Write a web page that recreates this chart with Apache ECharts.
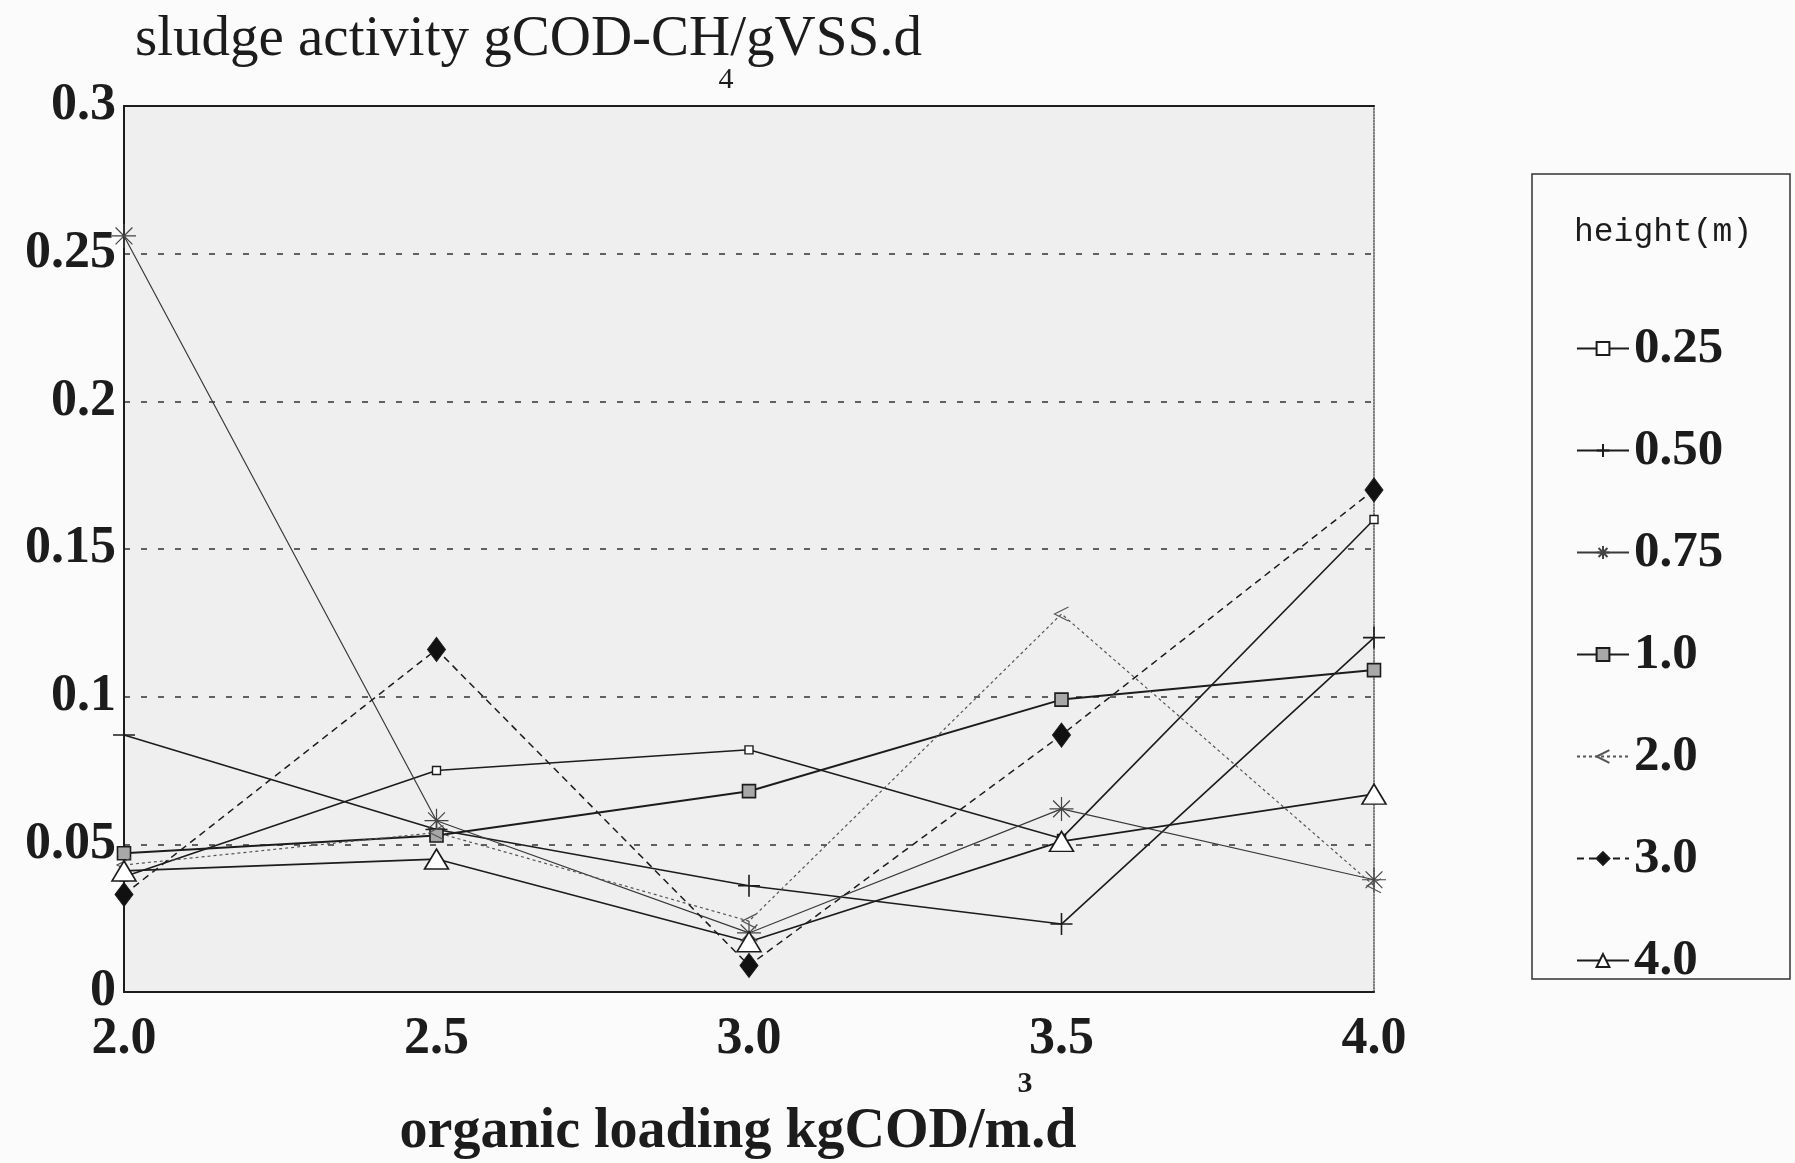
<!DOCTYPE html>
<html>
<head>
<meta charset="utf-8">
<script src="https://cdn.jsdelivr.net/npm/echarts@6/dist/echarts.min.js"></script>
<style>
  html, body { margin: 0; padding: 0; background: #fbfbfb; }
  #chart { width: 1795px; height: 1163px; }
</style>
</head>
<body>
<div id="chart"></div>
<script>
// Organic loading (kgCOD/m3.d) on the x axis
const loading = [2.0, 2.5, 3.0, 3.5, 4.0];

// Sludge activity (gCOD-CH4/gVSS.d) at each sampling height
const h025 = [0.039, 0.075, 0.082, 0.052, 0.160];
const h050 = [0.087, 0.055, 0.036, 0.023, 0.120];
const h075 = [0.256, 0.058, 0.020, 0.062, 0.038];
const h100 = [0.047, 0.053, 0.068, 0.099, 0.109];
const h200 = [0.043, 0.054, 0.024, 0.128, 0.036];
const h300 = [0.033, 0.116, 0.009, 0.087, 0.170];
const h400 = [0.041, 0.045, 0.017, 0.051, 0.067];

const heightNames = ['0.25', '0.50', '0.75', '1.0', '2.0', '3.0', '4.0'];
const xTickLabels = ['2.0', '2.5', '3.0', '3.5', '4.0'];
const yTickLabels = ['0', '0.05', '0.1', '0.15', '0.2', '0.25', '0.3'];

const SERIF = '"Liberation Serif", "DejaVu Serif", serif';
const INK = '#1c1c1c';

const pairs = vals => vals.map((v, i) => [loading[i], v]);

const PLUS = 'path://M0,5L10,5M5,0L5,10';
const ASTER = 'path://M0,5L10,5M5,0L5,10M1.5,1.5L8.5,8.5M8.5,1.5L1.5,8.5';
const CHEVRON = 'path://M10,1L0,5L10,9';

function line(name, vals, symbol, size, item, lineStyle) {
  return {
    name, type: 'line', data: pairs(vals),
    symbol, symbolSize: size,
    itemStyle: Object.assign({ borderColor: INK, borderWidth: 1.4 }, item),
    lineStyle: Object.assign({ color: INK, width: 1.6 }, lineStyle),
    emphasis: { disabled: true },
    z: 3
  };
}

const series = [
  line(heightNames[0], h025, 'rect', 8, { color: '#ffffff' }, {}),
  line(heightNames[1], h050, PLUS, 22, { color: 'rgba(0,0,0,0)', borderWidth: 1.6 }, {}),
  line(heightNames[2], h075, ASTER, 24, { color: 'rgba(0,0,0,0)', borderColor: '#444', borderWidth: 1.2 }, { color: '#3a3a3a', width: 1.2 }),
  line(heightNames[3], h100, 'rect', 13, { color: '#a8a8a8', borderWidth: 1.6 }, { width: 2 }),
  line(heightNames[4], h200, CHEVRON, 14, { color: 'rgba(0,0,0,0)', borderColor: '#555', borderWidth: 1.2 }, { color: '#555', width: 1.2, type: [3, 3] }),
  line(heightNames[5], h300, 'diamond', [18, 24], { color: '#111111', borderWidth: 1 }, { width: 1.5, type: [7, 5] }),
  line(heightNames[6], h400, 'triangle', [24, 20], { color: '#ffffff', borderWidth: 1.6 }, {})
];

const chart = echarts.init(document.getElementById('chart'), null, { renderer: 'canvas' });

chart.setOption({
  animation: false,
  backgroundColor: '#fbfbfb',
  grid: {
    left: 124, top: 106, width: 1250, height: 886,
    show: true, backgroundColor: '#efefef', borderWidth: 0
  },
  xAxis: [
    {
      type: 'value', min: 2, max: 4, interval: 0.5,
      axisLine: { show: true, onZero: false, lineStyle: { color: INK, width: 2 } },
      axisTick: { show: false },
      splitLine: { show: false },
      axisLabel: {
        margin: 22, fontSize: 52, fontWeight: 'bold', fontFamily: SERIF, color: INK,
        formatter: (v) => xTickLabels[Math.round((v - 2) / 0.5)]
      }
    },
    {
      type: 'value', min: 2, max: 4, position: 'top',
      axisLine: { show: true, onZero: false, lineStyle: { color: INK, width: 2 } },
      axisTick: { show: false }, axisLabel: { show: false }, splitLine: { show: false }
    }
  ],
  yAxis: [
    {
      type: 'value', min: 0, max: 0.3, interval: 0.05,
      axisLine: { show: true, onZero: false, lineStyle: { color: INK, width: 2 } },
      axisTick: { show: false },
      splitLine: { show: true, lineStyle: { color: '#333', width: 1.6, type: [6, 11] } },
      axisLabel: {
        margin: 8, fontSize: 52, fontWeight: 'bold', fontFamily: SERIF, color: INK,
        formatter: (v) => yTickLabels[Math.round(v / 0.05)]
      }
    },
    {
      type: 'value', min: 0, max: 0.3, position: 'right',
      axisLine: { show: true, onZero: false, lineStyle: { color: '#555', width: 1.5, type: 'dotted' } },
      axisTick: { show: false }, axisLabel: { show: false }, splitLine: { show: false }
    }
  ],
  legend: {
    orient: 'vertical',
    left: 1571, top: 318,
    itemWidth: 52, itemHeight: 16, itemGap: 51,
    data: heightNames,
    selectedMode: false,
    textStyle: { fontSize: 51, fontWeight: 'bold', fontFamily: SERIF, color: INK, lineHeight: 44 }
  },
  graphic: [
    {
      type: 'text', x: 135, y: 40,
      style: { text: 'sludge activity gCOD-CH/gVSS.d', font: '57px ' + SERIF, fill: INK, align: 'left', verticalAlign: 'middle' }
    },
    {
      type: 'text', x: 726, y: 80,
      style: { text: '4', font: '30px ' + SERIF, fill: INK, align: 'center', verticalAlign: 'middle' }
    },
    {
      type: 'text', x: 738, y: 1133,
      style: { text: 'organic loading kgCOD/m.d', font: 'bold 56px ' + SERIF, fill: INK, align: 'center', verticalAlign: 'middle' }
    },
    {
      type: 'text', x: 1025, y: 1084,
      style: { text: '3', font: 'bold 30px ' + SERIF, fill: INK, align: 'center', verticalAlign: 'middle' }
    },
    {
      type: 'rect', shape: { x: 1532, y: 174, width: 258, height: 805 },
      style: { fill: 'none', stroke: '#333', lineWidth: 1.5 }
    },
    {
      type: 'text', x: 1574, y: 232,
      style: { text: 'height(m)', font: '33px "Liberation Mono", monospace', fill: INK, align: 'left', verticalAlign: 'middle' }
    }
  ],
  series
});
</script>
</body>
</html>
